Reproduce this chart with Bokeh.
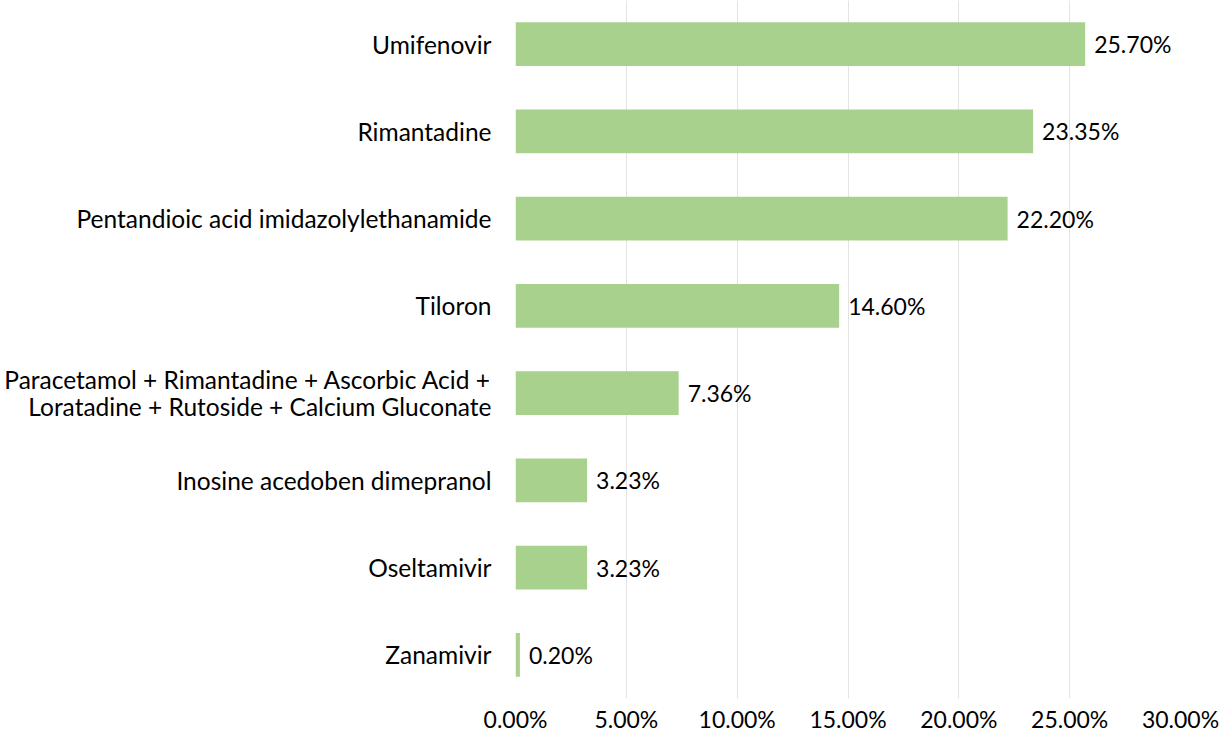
from bokeh.plotting import figure
from bokeh.models import FactorRange, Range1d, FixedTicker, ColumnDataSource
from bokeh.embed import file_html
from bokeh.resources import INLINE
from bokeh.core.properties import value

drugs = [
    "Umifenovir",
    "Rimantadine",
    "Pentandioic acid imidazolylethanamide",
    "Tiloron",
    "Paracetamol + Rimantadine + Ascorbic Acid +\nLoratadine + Rutoside + Calcium Gluconate",
    "Inosine acedoben dimepranol",
    "Oseltamivir",
    "Zanamivir",
]
shares = [25.70, 23.35, 22.20, 14.60, 7.36, 3.23, 3.23, 0.20]
value_labels = ["25.70%", "23.35%", "22.20%", "14.60%", "7.36%", "3.23%", "3.23%", "0.20%"]
tick_values = [0, 5, 10, 15, 20, 25, 30]
tick_labels = ["0.00%", "5.00%", "10.00%", "15.00%", "20.00%", "25.00%", "30.00%"]

FONT = "Lato"
FS_CAT = "24.5px"
FS_NUM = "23px"

src = ColumnDataSource(dict(drug=drugs, share=shares, lab=value_labels))

p = figure(
    width=1220, height=749,
    y_range=FactorRange(factors=list(reversed(drugs))),
    x_range=Range1d(0, 30),
    output_backend="svg", toolbar_location=None,
    min_border_left=515, min_border_right=40,
    min_border_top=0, min_border_bottom=51,
)
p.outline_line_color = None
p.background_fill_color = "white"

p.hbar(y="drug", right="share", height=0.5, left=0, source=src,
       fill_color="#A9D18E", line_color=None)

p.text(x="share", y="drug", text="lab", source=src, x_offset=9,
       text_align="left", text_baseline="middle",
       text_font=value(FONT), text_font_size=FS_NUM, text_color="#000000")

p.xaxis.ticker = FixedTicker(ticks=tick_values)
p.xaxis.major_label_overrides = {v: l for v, l in zip(tick_values, tick_labels)}
p.xaxis.axis_line_color = None
p.xaxis.major_tick_line_color = None
p.xaxis.minor_tick_line_color = None
p.xaxis.major_label_standoff = 0
p.xaxis.major_label_text_font = FONT
p.xaxis.major_label_text_font_size = FS_NUM
p.xaxis.major_label_text_color = "#000000"

p.yaxis.axis_line_color = None
p.yaxis.major_tick_line_color = None
p.yaxis.minor_tick_line_color = None
p.yaxis.major_label_standoff = 18
p.yaxis.major_label_text_font = FONT
p.yaxis.major_label_text_font_size = FS_CAT
p.yaxis.major_label_text_color = "#000000"
p.yaxis.major_label_text_line_height = 0.95

p.ygrid.grid_line_color = None
p.xgrid.grid_line_color = "#E3E3E3"
p.xgrid.grid_line_width = 1

open("out.html", "w").write(file_html(p, INLINE))
